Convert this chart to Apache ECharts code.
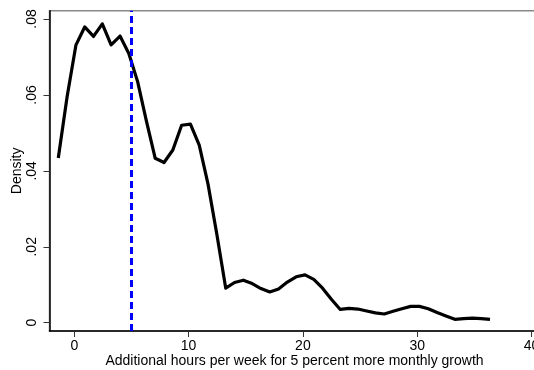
<!DOCTYPE html>
<html>
<head>
<meta charset="utf-8">
<script src="https://cdn.jsdelivr.net/npm/echarts@6/dist/echarts.min.js"></script>
<style>
html,body{margin:0;padding:0;background:#fff;}
#c{width:534px;height:370px;}
</style>
</head>
<body>
<div id="c"></div>
<script>
// Kernel density estimate: x grid (hours) and density values
const xHours = [-1.40, -0.63, 0.14, 0.91, 1.68, 2.45, 3.22, 4.00, 4.77, 5.54,
  6.31, 7.08, 7.85, 8.62, 9.39, 10.16, 10.93, 11.70, 12.47, 13.25,
  14.02, 14.79, 15.56, 16.33, 17.10, 17.87, 18.64, 19.41, 20.18, 20.95,
  21.72, 22.49, 23.27, 24.04, 24.81, 25.58, 26.35, 27.12, 27.89, 28.66,
  29.43, 30.20, 30.97, 31.74, 32.52, 33.29, 34.06, 34.83, 35.60, 36.37];
const density = [0.0434, 0.0595, 0.0731, 0.0779, 0.0754, 0.0787, 0.0732, 0.0755, 0.0709, 0.0635,
  0.0531, 0.0433, 0.0422, 0.0455, 0.0520, 0.0523, 0.0468, 0.0365, 0.0233, 0.0091,
  0.0106, 0.0112, 0.0103, 0.0090, 0.0081, 0.0089, 0.0107, 0.0121, 0.0126, 0.0114,
  0.0091, 0.0062, 0.0035, 0.0038, 0.0036, 0.0031, 0.0026, 0.0023, 0.0030, 0.0037,
  0.0043, 0.0043, 0.0037, 0.0027, 0.0018, 0.0009, 0.0011, 0.0012, 0.0011, 0.0009];
const referenceX = 5;
const xTicks = [0, 10, 20, 30, 40];
const yTicks = [0, 0.02, 0.04, 0.06, 0.08];
const xTitle = 'Additional hours per week for 5 percent more monthly growth';
const yTitle = 'Density';

const FONT = 'Liberation Sans, Arial, sans-serif';
const chart = echarts.init(document.getElementById('c'), null, {renderer: 'canvas'});
chart.setOption({
  animation: false,
  backgroundColor: '#fff',
  grid: {
    left: 49.5, top: 10.7, width: 490, height: 320.3,
    outerBoundsMode: 'none', containLabel: false,
    show: true, borderColor: '#8a8a8a', borderWidth: 1.5, backgroundColor: 'transparent'
  },
  xAxis: {
    type: 'value', min: -2.17, max: 40.7,
    splitLine: {show: false},
    axisLine: {show: true, onZero: false, lineStyle: {color: '#000', width: 1.5}},
    axisTick: {show: true, customValues: xTicks, length: 6, lineStyle: {color: '#333', width: 1}},
    axisLabel: {customValues: xTicks, color: '#000', fontSize: 14, fontFamily: FONT, margin: 8, hideOverlap: false},
    name: xTitle, nameLocation: 'middle', nameGap: 23, nameMoveOverlap: false,
    nameTextStyle: {color: '#000', fontSize: 14, fontFamily: FONT}
  },
  yAxis: {
    type: 'value', min: -0.00218, max: 0.08218,
    splitLine: {show: false},
    axisLine: {show: true, onZero: false, lineStyle: {color: '#000', width: 1.5}},
    axisTick: {show: true, customValues: yTicks, length: 6, lineStyle: {color: '#333', width: 1}},
    axisLabel: {
      customValues: yTicks, rotate: 90, color: '#000', fontSize: 14, fontFamily: FONT, margin: 10,
      formatter: v => v === 0 ? '0' : v.toFixed(2).replace(/^0/, '')
    },
    name: yTitle, nameLocation: 'middle', nameGap: 25, nameMoveOverlap: false,
    nameTextStyle: {color: '#000', fontSize: 14, fontFamily: FONT}
  },
  series: [{
    type: 'line',
    data: xHours.map((x, i) => [x, density[i]]),
    showSymbol: false,
    lineStyle: {color: '#000', width: 3.2, join: 'round'},
    markLine: {
      silent: true, symbol: 'none', label: {show: false},
      lineStyle: {color: '#0000ff', width: 3, type: [7, 4]},
      data: [{xAxis: referenceX}]
    }
  }]
});
</script>
</body>
</html>
